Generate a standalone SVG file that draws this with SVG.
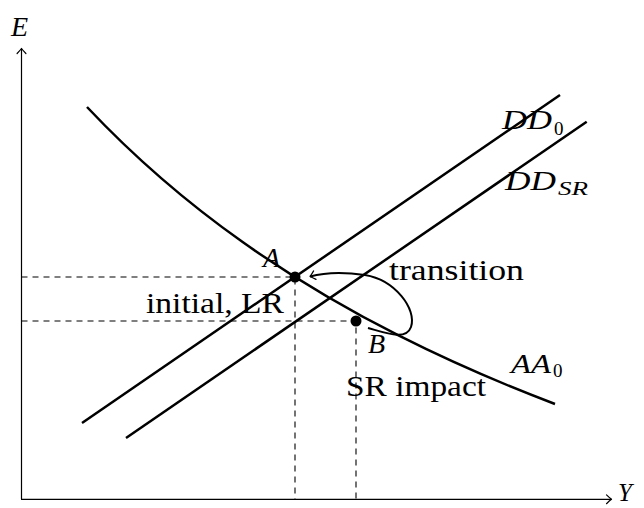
<svg xmlns="http://www.w3.org/2000/svg" width="644" height="508" viewBox="0 0 644 508">
<style>
.curve{fill:none;stroke:#000;stroke-width:2.5;stroke-linecap:butt}
.axis{fill:none;stroke:#000;stroke-width:1.2}
.dash{fill:none;stroke:#000;stroke-width:1.1;stroke-dasharray:6 5}
.tip{fill:none;stroke:#000;stroke-width:1.2;stroke-linecap:round;stroke-linejoin:round}
.txt{font-family:"Liberation Serif","Times New Roman",serif;font-size:30px;fill:#000}
.math{font-family:"Liberation Serif","Times New Roman",serif;font-style:italic;font-size:28px;fill:#000}
.sub{font-family:"Liberation Serif","Times New Roman",serif;font-size:19px;fill:#000}
.subi{font-family:"Liberation Serif","Times New Roman",serif;font-style:italic;font-size:19px;fill:#000}
</style>
<defs>
<marker id="arr" markerUnits="userSpaceOnUse" markerWidth="12" markerHeight="12" refX="0" refY="0" viewBox="-8 -6 10 12" orient="auto" overflow="visible">
<path d="M-5,-4.4 Q-2,-1.5 0,0 Q-2,1.5 -5,4.4" class="tip"/>
</marker>
</defs>
<g id="axes">
<line x1="21.5" y1="499.3" x2="21.5" y2="48.5" class="axis" marker-end="url(#arr)"/>
<line x1="21" y1="499.3" x2="611.5" y2="499.3" class="axis" marker-end="url(#arr)"/>
<text x="11" y="36" class="math">E</text>
<text x="618" y="501" class="math" style="font-size:25px">Y</text>
</g>
<g id="connectors">
<path d="M21.5,277H295V499.3" class="dash"/>
<path d="M21.5,321H356V499.3" class="dash"/>
<path d="M368,328 C386,333 406,341 411,327 C417,309 395,280 365,275 C345,272 326,272 310,276.5" class="curve" style="stroke-width:2" marker-end="url(#arr)"/>
</g>
<g id="AA0">
<path d="M87,107 C139,162.2 191,205.5 243,242.3 C295,279.1 347,309.4 399,335.7 C451,362 503,384.3 555,404" class="curve"/>
<text x="511" y="373" class="math" textLength="40" lengthAdjust="spacingAndGlyphs">AA</text>
<text x="553" y="377" class="sub">0</text>
</g>
<g id="DD0">
<line x1="82" y1="423" x2="560" y2="95" class="curve"/>
<text x="502" y="129" class="math" textLength="50" lengthAdjust="spacingAndGlyphs">DD</text>
<text x="554" y="135" class="sub">0</text>
</g>
<g id="DDSR">
<line x1="126" y1="438" x2="586.7" y2="121.7" class="curve"/>
<text x="505" y="190" class="math" textLength="51" lengthAdjust="spacingAndGlyphs">DD</text>
<text x="558" y="195" class="subi" textLength="30" lengthAdjust="spacingAndGlyphs">SR</text>
</g>
<g id="pointA">
<circle cx="295" cy="277" r="5.5"/>
<text x="263" y="267" class="math">A</text>
<text x="146" y="313" class="txt" textLength="138" lengthAdjust="spacingAndGlyphs">initial, LR</text>
</g>
<g id="pointB">
<circle cx="356" cy="321" r="5.5"/>
<text x="368" y="353" class="math">B</text>
<text x="346" y="396" class="txt" textLength="140" lengthAdjust="spacingAndGlyphs">SR impact</text>
</g>
<g id="transitionLabel">
<text x="389" y="280" class="txt" textLength="135" lengthAdjust="spacingAndGlyphs">transition</text>
</g>
</svg>
